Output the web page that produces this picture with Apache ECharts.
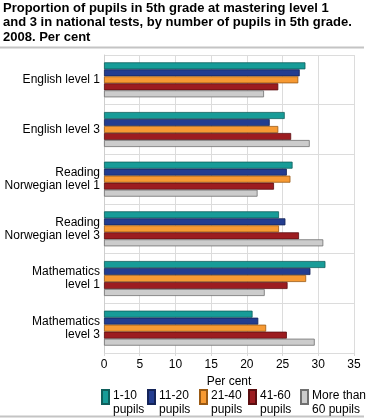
<!DOCTYPE html>
<html><head><meta charset="utf-8">
<script src="https://cdn.jsdelivr.net/npm/echarts@6/dist/echarts.min.js"></script>
<style>html,body{margin:0;padding:0;background:#fff}#c{width:370px;height:420px}</style>
</head><body><div id="c"></div>
<script>
var categories = ['English level 1', 'English level 3', 'Reading\nNorwegian level 1', 'Reading\nNorwegian level 3', 'Mathematics\nlevel 1', 'Mathematics\nlevel 3'];
var seriesNames = ['1-10\npupils', '11-20\npupils', '21-40\npupils', '41-60\npupils', 'More than\n60 pupils'];
var s1_10 = [28.2, 25.3, 26.4, 24.5, 31.0, 20.8];
var s11_20 = [27.4, 23.2, 25.6, 25.4, 28.9, 21.6];
var s21_40 = [27.2, 24.4, 26.1, 24.5, 28.3, 22.7];
var s41_60 = [24.4, 26.2, 23.8, 27.3, 25.7, 25.6];
var s60plus = [22.4, 28.8, 21.5, 30.7, 22.5, 29.5];
var xTicks = [0, 5, 10, 15, 20, 25, 30, 35];

var values = [s1_10, s11_20, s21_40, s41_60, s60plus];
var colors = ['#179c98', '#233d90', '#f79a33', '#9c1c20', '#cccccc'];
var borders = ['#0f5f5c', '#142458', '#9a5a14', '#5a0e10', '#707070'];
var legendLeft = [101, 147, 199, 248, 300];
var font = 'Liberation Sans, Arial, sans-serif';

var chart = echarts.init(document.getElementById('c'), null, {renderer: 'canvas'});
chart.setOption({
  animation: false,
  title: {
    text: 'Proportion of pupils in 5th grade at mastering level 1\nand 3 in national tests, by number of pupils in 5th grade.\n2008. Per cent',
    left: 3, top: 1, padding: 0,
    textStyle: {fontFamily: font, fontWeight: 'bold', fontSize: 13, lineHeight: 14.5, color: '#000'}
  },
  graphic: [
    {type: 'line', shape: {x1: 0, y1: 47.5, x2: 364, y2: 47.5}, style: {stroke: '#c4c4c4', lineWidth: 2}},
    {type: 'line', shape: {x1: 0, y1: 416.5, x2: 364, y2: 416.5}, style: {stroke: '#c4c4c4', lineWidth: 2}}
  ],
  legend: seriesNames.map(function (n, i) {
    return {
      left: legendLeft[i], top: 389, padding: 0, itemWidth: 7, itemHeight: 26, itemGap: 0,
      icon: 'path://M0,0L7,0L7,14L0,14Z M0,26', data: [n],
      textStyle: {fontFamily: font, fontSize: 12, color: '#000', lineHeight: 14, padding: [0, 0, 0, -1]}
    };
  }),
  grid: {left: 104, right: 16, top: 55, bottom: 67, containLabel: false},
  xAxis: {
    type: 'value', min: 0, max: 35, interval: 5,
    name: 'Per cent', nameLocation: 'middle', nameGap: 16,
    nameTextStyle: {fontFamily: font, fontSize: 12, color: '#000'},
    axisLine: {show: false},
    axisTick: {show: true, length: 3, lineStyle: {color: '#d9d9d9'}},
    axisLabel: {fontFamily: font, fontSize: 12, color: '#000', margin: 6,
      formatter: function (v) { return xTicks.indexOf(v) >= 0 ? String(v) : ''; }},
    splitLine: {show: true, lineStyle: {color: '#dcdcdc', width: 1}}
  },
  yAxis: {
    type: 'category', data: categories, inverse: true,
    axisLine: {show: true, lineStyle: {color: '#cfcfcf'}},
    axisTick: {show: false},
    axisLabel: {fontFamily: font, fontSize: 12, color: '#000', lineHeight: 13, margin: 4, align: 'right'},
    splitLine: {show: true, lineStyle: {color: '#dcdcdc', width: 1}}
  },
  series: values.map(function (arr, i) {
    return {
      name: seriesNames[i], type: 'bar', data: arr,
      barWidth: 7, barGap: '0%',
      itemStyle: {color: colors[i], borderColor: borders[i], borderWidth: 0.8}
    };
  })
});
</script></body></html>
